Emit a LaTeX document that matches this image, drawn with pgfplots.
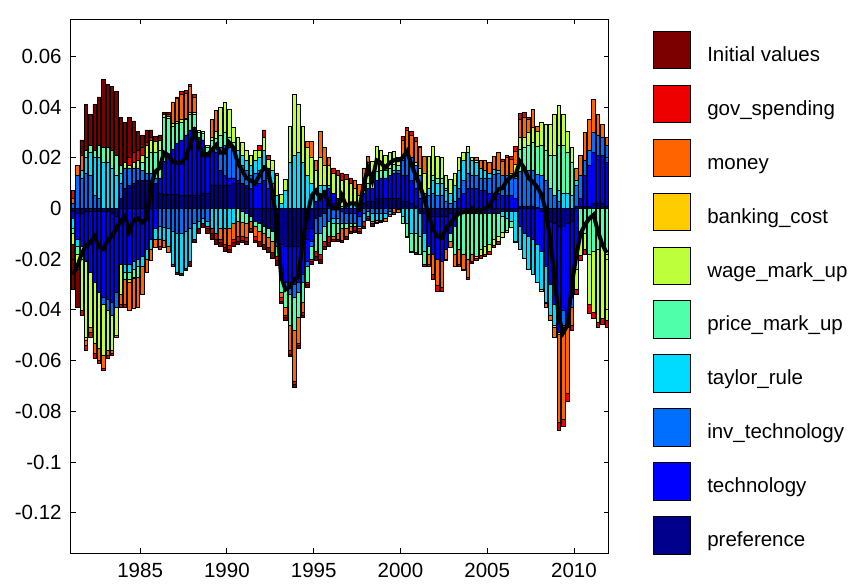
\documentclass[border=0pt]{standalone}
\usepackage{fontspec}
\setmainfont{Liberation Sans}
\usepackage{pgfplots}
\usepackage{pgfplotstable}
\pgfplotsset{compat=1.18}

\definecolor{cpref}{RGB}{0,0,140}
\definecolor{ctech}{RGB}{0,0,255}
\definecolor{cinv}{RGB}{0,110,255}
\definecolor{ctay}{RGB}{0,220,255}
\definecolor{cprice}{RGB}{80,255,170}
\definecolor{cwage}{RGB}{190,255,60}
\definecolor{cbank}{RGB}{255,204,0}
\definecolor{cmoney}{RGB}{255,100,0}
\definecolor{cgov}{RGB}{238,0,0}
\definecolor{cinit}{RGB}{125,0,0}

% shock contributions, in percentage points (plotted /100); q = quarter, 1 = 1981Q1
\pgfplotstableread{
q pref tech inv tay price wage bank money gov init line
1 -0.1 -0.3 0.2 -0.4 -0.2 -0.4 0 0.2 0.3 -1.8 -2.6
2 -0.2 -1.0 1.3 -0.3 -0.3 -0.6 0 0.4 0 -1.5 -2.3
3 -0.2 -1.3 1.2 0.3 -0.5 -2.0 0 0.6 -0.2 0.6 -1.8
4 -0.1 -2.0 1.4 0.6 0.3 -3.0 -0.1 -0.2 -0.2 1.8 -1.45
5 -0.1 -2.4 1.3 0.9 0.3 -2.2 0 -0.2 -0.2 1.2 -1.35
6 -0.1 -2.8 0.5 1.5 0.3 -2.4 0 -0.4 -0.2 1.8 -1.1
7 -0.1 -3.2 0.4 1.6 0.5 -2.2 0 -0.5 -0.1 1.9 -1.5
8 -0.1 -3.4 -0.3 1.8 0.6 -2.0 0 -0.5 -0.1 2.7 -1.6
9 -0.1 -3.5 -0.4 1.8 0.6 -1.6 0 -0.2 -0.1 2.5 -1.25
10 -0.2 -3.5 -0.5 1.6 0.7 -1.4 0 -0.1 -0.1 2.5 -1.1
11 -0.3 -3.0 -0.6 1.3 0.8 -1.1 0 -0.1 0 2.5 -0.8
12 0.4 -2.2 0.6 0.4 0.3 -1.2 0 -0.4 -0.1 1.9 -0.5
13 0.8 -2.2 0.8 -0.3 -0.3 0.2 0 -1.0 -0.1 1.6 -0.3
14 0.9 -2.2 0.7 -0.3 -0.3 0.1 -0.1 -1.1 0.3 1.6 -0.9
15 1.0 -2.1 0.6 -0.3 -0.3 0.2 -0.05 -1.2 0.4 1.25 -0.45
16 1.1 -2.0 0.5 -0.3 -0.4 0.3 0 -1.2 0.4 0.75 -0.4
17 1.1 -1.9 0.4 -0.4 0.3 0.3 0 -1.1 0.3 0.5 -0.55
18 1.1 -1.6 0.3 -0.4 0.6 0.5 0 -0.5 0.1 0.5 -0.4
19 1.1 -1.2 0.3 -0.4 0.8 0.5 0 -0.45 0.1 0.3 0.9
20 1.0 -0.8 0.2 -0.4 1.0 0.45 0 -0.35 0 0.2 1.45
21 0.6 0.6 -0.7 -0.5 1.1 0.4 0 -0.3 -0.1 0.2 1.6
22 0.55 1.3 -0.75 -0.5 1.75 0.1 0 -0.3 0 0.1 2.2
23 0.55 1.5 -0.8 -0.7 1.5 0.1 0 -0.25 0.05 0.1 2.1
24 0.55 1.8 -0.9 -1.3 0.9 0.1 0 0.85 -0.1 0 1.85
25 0.55 2.0 -1.0 -1.5 0.8 0.1 0 0.9 0.05 -0.1 1.8
26 0.5 2.2 -1.0 -1.55 0.7 0.1 0 1.0 0.1 -0.1 1.8
27 0.5 2.4 -0.9 -1.45 0.6 0.05 0 1.0 0.1 -0.1 2.0
28 0.5 2.6 -0.8 -1.3 0.6 0.1 0 1.0 0.1 -0.2 2.5
29 0.5 2.7 -0.6 -0.6 0.5 0.1 0 0.6 0.1 -0.15 3.0
30 0.5 2.3 -0.5 -0.3 0.2 0.1 0 0 0 -0.2 2.5
31 0.6 2.1 -0.4 -0.2 0.25 0.1 0 0 0 -0.15 2.1
32 0.6 1.6 -0.5 -0.2 0.2 0.1 0 0 -0.1 -0.2 2.1
33 0.9 1.4 0 -0.8 0.4 0.1 0 0.7 -0.2 -0.2 2.3
34 0.9 1.3 0.2 -1.0 0.35 0.3 0 0.8 -0.2 -0.2 2.5
35 0.9 0.6 0.9 -0.8 0.5 1.1 0 -0.4 -0.15 -0.15 2.2
36 0.9 0.4 1.2 -0.8 0.5 1.2 0 -0.6 -0.15 -0.15 2.2
37 0.9 0.3 1.2 -0.8 0.4 1.1 0 -0.65 -0.15 -0.15 2.6
38 1.0 0.2 1.1 -0.6 0.3 0.6 0 -0.6 -0.15 -0.15 2.4
39 1.0 0.1 0.8 0.4 -0.5 0.5 0 -0.6 -0.2 -0.1 1.8
40 1.0 -0.1 0.7 0.4 -0.45 0.5 0 -0.55 -0.15 -0.1 1.5
41 0.9 -0.2 0.6 0.4 -0.4 0.4 0 -0.55 -0.15 -0.1 1.2
42 -0.3 0.8 0.5 0.4 -0.2 0.4 0 -0.3 -0.1 -0.05 1.1
43 -0.5 0.9 0.5 0.5 -0.2 0.4 0 -0.4 -0.15 -0.1 1.0
44 -0.6 1.0 0.5 0.5 -0.3 0.3 0 -0.4 0.2 -0.2 1.3
45 -0.7 1.1 0.6 0.6 -0.3 0.5 0 -0.4 0.3 -0.2 1.6
46 -0.8 0.8 0.4 0.4 -0.35 0.35 0 -0.4 0.15 -0.2 1.5
47 -0.9 0.7 0.3 0.5 -0.4 0.4 0 -0.45 0 -0.2 0.6
48 -1.0 -0.3 -0.2 0.5 -0.4 0.8 0 0.1 -0.15 -0.2 -0.5
49 -1.4 -1.0 -0.3 0.2 -0.6 0.35 0 -0.2 -0.15 -0.1 -2.7
50 -1.5 -1.4 -0.3 0.7 -0.7 0.45 0 -0.3 -0.1 -0.1 -3.2
51 -1.5 -1.5 -0.4 1.8 -1.2 1.45 0 -1.0 -0.15 -0.1 -3.1
52 -1.5 -1.5 -0.5 2.1 -1.3 2.4 0 -2.0 -0.15 -0.1 -2.8
53 -1.5 -1.4 -0.4 2.2 -1.0 1.9 0 -1.0 -0.1 -0.1 -2.7
54 -1.4 -1.2 -0.3 1.8 -0.8 1.45 0 -0.4 -0.1 -0.1 -1.2
55 -1.2 -0.9 -0.2 1.3 -0.6 1.1 0 0.25 -0.1 -0.1 -0.3
56 -0.8 -0.5 -0.2 1.0 -0.5 1.0 0 0.65 -0.1 -0.1 0.5
57 -0.4 0.3 -0.6 0.4 -0.7 0.8 0 0.4 -0.2 -0.15 0.7
58 -0.3 0.6 -0.7 0.3 -0.8 1.1 0 1.05 -0.2 -0.15 0.4
59 -0.2 0.7 -0.5 0.2 -0.6 0.8 0 0.7 -0.2 -0.1 0.6
60 0.2 0.6 -0.5 0.1 -0.6 0.8 0 0.3 -0.25 -0.15 0.2
61 0.2 0.4 -0.4 -0.2 -0.5 0.8 0 -0.1 0.2 -0.1 0.0
62 0.1 0.3 -0.4 -0.2 -0.4 0.9 0 -0.2 0.2 -0.1 0.0
63 0 -0.1 -0.5 0.1 -0.2 1.0 0 -0.45 0.3 -0.1 0.5
64 0 -0.2 -0.4 0.15 -0.2 1.0 0 -0.3 0.2 -0.1 0.1
65 0 -0.2 -0.4 0.2 -0.1 0.8 0 -0.2 0.2 -0.1 0.2
66 0 -0.2 -0.4 0.2 -0.1 0.6 0 0.3 -0.15 -0.1 0.2
67 -0.1 -0.2 -0.4 0.2 -0.1 0.3 0 0.45 -0.1 -0.1 0.0
68 0.2 0.4 -0.2 -0.3 0.1 0.4 0 0.5 -0.2 -0.1 0.9
69 0.3 0.5 -0.1 -0.2 0.2 0.8 0 0.25 -0.1 -0.05 1.6
70 0.3 0.5 -0.2 -0.3 0.25 0.8 0 -0.1 0 -0.1 1.1
71 0.4 0.7 -0.2 -0.25 0.35 1.0 0 -0.1 0 -0.05 1.9
72 0.4 0.8 -0.2 -0.25 0.3 0.8 0 -0.05 0 -0.05 1.8
73 0.4 0.8 -0.2 -0.2 0.3 0.6 0 -0.1 0 0 1.6
74 0.4 0.9 -0.1 -0.15 0.3 0.6 0 -0.05 0 0 1.8
75 0.4 1.0 0 0.1 0.25 0.5 0 -0.15 -0.1 0 1.9
76 0.4 1.0 0.1 -0.05 0.2 0.3 0 -0.1 0 0 1.9
77 0.3 1.0 0.6 -0.3 -0.3 0.2 0 0.6 0.15 0 2.0
78 0.3 1.0 0.8 -0.6 -0.5 0.1 0 0.9 0.1 -0.05 2.25
79 0.2 0.9 0.9 -1.0 -0.7 0 0 0.9 0.15 -0.05 1.75
80 0.1 0.7 0.9 -1.0 -0.75 0.1 0 0.85 0.15 -0.05 1.3
81 -0.2 0.4 0.9 -0.9 -0.7 0.3 0 0.8 0.05 0 0.9
82 -0.2 -0.8 0.6 -0.7 -0.5 0.8 0 0.65 -0.1 0 0.4
83 -0.3 -1.2 0.5 0.3 -0.3 1.25 0 -0.4 -0.1 0 -0.3
84 -0.3 -1.5 0.6 0.5 0.2 1.15 0 -0.8 -0.2 0 -0.8
85 -0.3 -1.7 0.5 0.5 0.2 0.85 0 -1.05 -0.2 0 -1.1
86 -0.3 -1.8 0.5 0.5 0.2 0.8 0 -1.0 -0.15 0 -1.15
87 -0.3 -1.3 0.3 0.4 0.1 0.5 0 -0.4 -0.05 0 -0.8
88 -0.2 -0.8 0.2 0.4 -0.3 0.55 0 -0.25 0 0 -0.6
89 -0.2 -0.5 0.3 0.6 -1.1 0.5 0 -0.5 0 0 -0.35
90 -0.2 0.4 0.4 0.7 -1.4 0.5 0 -0.6 -0.1 0 -0.2
91 -0.2 0.6 0.5 0.8 -1.6 0.3 0 -0.6 -0.05 0 -0.15
92 -0.2 0.8 0.6 0.8 -1.8 0.25 0 -0.7 -0.1 0 -0.1
93 -0.2 0.8 0.5 0.6 -1.6 0.1 0 -0.3 0 -0.05 0.0
94 -0.2 0.8 0.5 0.5 -1.7 0.1 -0.05 0.1 -0.1 0 -0.1
95 -0.2 0.7 0.5 0.4 -1.4 -0.25 0 0.3 -0.1 0 -0.15
96 -0.2 0.7 0.5 0.3 -1.3 -0.3 0 0.4 -0.1 0 0.0
97 -0.2 0.6 0.6 0.2 -1.2 -0.3 0 0.4 -0.1 0 0.1
98 -0.2 0.6 0.75 0.2 -1.0 -0.25 0 0.5 -0.1 0 0.45
99 -0.2 0.6 0.8 0.1 -0.9 -0.2 0 0.7 -0.1 0 0.75
100 -0.1 0.5 0.8 -0.2 -0.65 -0.2 0 0.55 0.1 0 0.8
101 -0.1 0.5 0.8 -0.3 -0.45 -0.1 0 0.7 0.1 0 1.1
102 -0.1 0.5 0.8 -0.4 -0.25 0.1 0 0.55 0.1 0 1.25
103 -0.1 0.4 0.8 -1.2 0.2 0.35 -0.05 0.5 0.2 0 1.3
104 0.1 -0.7 1.35 -0.9 0.9 0.45 0 0.7 0.25 0 1.85
105 0.1 -1.0 1.4 -0.95 0.9 0.4 0 0.8 0.2 0 1.6
106 0.1 -1.1 1.4 -1.3 1.0 0.5 0 0.5 0.1 0 1.2
107 0.1 -1.2 1.4 -1.4 1.1 0.6 0 0.7 0 0 1.05
108 0.05 -1.4 1.3 -1.5 1.1 0.6 0 0.2 0 0 0.85
109 -0.1 -1.6 1.3 -1.5 1.2 0.9 -0.05 0 0 0 0.55
110 -0.3 -2.0 1.1 -1.4 1.2 1.0 -0.05 -0.15 0 0 -0.1
111 -0.5 -2.5 0.8 -1.2 1.3 1.2 0 -0.2 0 0 -1.2
112 -0.6 -3.2 0.5 -0.8 1.6 1.6 -0.1 -0.4 0 0 -2.7
113 -0.7 -4.2 0.3 0.4 1.8 1.55 -0.05 -3.5 -0.3 0 -4.3
114 -0.7 -3.3 -0.6 0.6 1.9 1.2 0 -3.7 -0.3 0 -4.9
115 -0.6 -3.6 -0.5 0.6 1.6 0.85 0 -2.6 -0.3 0 -4.6
116 -0.5 -3.0 -0.4 0.5 1.3 0.6 0 -0.7 -0.2 0 -3.0
117 0.1 -1.6 0.8 0.2 -0.8 -0.8 0 0.5 -0.2 0 -1.9
118 0.1 0.3 0.9 0 -0.9 -0.95 0 0.8 -0.2 0 -1.0
119 0.1 1.2 0.6 0 -1.0 -0.6 0 1.1 -0.2 0 -0.65
120 0.1 1.6 0.6 0 -1.8 -2.0 0 1.2 -0.35 0 -0.4
121 0.2 2.0 0.8 0 -1.7 -2.4 0 1.3 -0.25 0 -0.25
122 0.2 1.9 0.8 0 -1.6 -2.9 0 0.8 -0.2 0 -0.9
123 0.2 1.9 0.7 0 -1.5 -2.85 0 0.5 -0.2 0 -1.4
124 0.1 1.7 0.7 0 -1.8 -2.6 0 0.3 -0.3 0 -1.75
}\shocks

\pgfplotsset{
  hdbase/.style={
    scale only axis, width=269pt, height=266.9pt,
    xmin=0.5, xmax=124.5, ymin=-0.136, ymax=0.0745,
  },
  hdbars/.style={hdbase, hide axis, ybar stacked, bar width=0.8},
}
% positive parts are stacked upwards, negative parts downwards (two overlaid axes)
\newcommand{\hdbar}[3]{%
  \addplot[fill=#2, draw=black, line width=0.3pt]
    table[x=q, y expr={#3(\thisrow{#1},0)/100}] {\shocks};}

\begin{document}
\begin{tikzpicture}
\useasboundingbox (-35.35pt,-14.85pt) rectangle (392.15pt,276.65pt);

\begin{axis}[hdbars]
\hdbar{pref}{cpref}{max}
\hdbar{tech}{ctech}{max}
\hdbar{inv}{cinv}{max}
\hdbar{tay}{ctay}{max}
\hdbar{price}{cprice}{max}
\hdbar{wage}{cwage}{max}
\hdbar{bank}{cbank}{max}
\hdbar{money}{cmoney}{max}
\hdbar{gov}{cgov}{max}
\hdbar{init}{cinit}{max}
\end{axis}

\begin{axis}[hdbars]
\hdbar{pref}{cpref}{min}
\hdbar{tech}{ctech}{min}
\hdbar{inv}{cinv}{min}
\hdbar{tay}{ctay}{min}
\hdbar{price}{cprice}{min}
\hdbar{wage}{cwage}{min}
\hdbar{bank}{cbank}{min}
\hdbar{money}{cmoney}{min}
\hdbar{gov}{cgov}{min}
\hdbar{init}{cinit}{min}
\end{axis}

\begin{axis}[
  hdbase,
  axis line style={black, line width=0.5pt},
  tick align=inside, major tick length=2.5pt,
  tick style={black, line width=0.4pt},
  xtick={16.5,36.5,56.5,76.5,96.5,116.5},
  xticklabels={1985,1990,1995,2000,2005,2010},
  ytick={-0.12,-0.10,-0.08,-0.06,-0.04,-0.02,0,0.02,0.04,0.06},
  yticklabels={-0.12,-0.1,-0.08,-0.06,-0.04,-0.02,0,0.02,0.04,0.06},
  tick label style={font=\fontsize{10.25}{12}\selectfont},
  xticklabel style={yshift=-1.3pt},
  yticklabel style={xshift=-1pt},
  legend image code/.code={\draw[#1, draw=black, line width=0.4pt] (0pt,-3.7pt) rectangle (18.75pt,15.05pt);},
  legend cell align=left,
  legend style={at={(1.0823,0.9785)}, anchor=north west, draw=none, fill=none,
    inner sep=0pt, outer sep=0pt, row sep=7.8pt, column sep=8pt,
    nodes={inner sep=0pt}, cells={anchor=base west},
    font=\fontsize{10.25}{12}\selectfont},
]
\addlegendimage{fill=cinit}\addlegendentry{Initial values}
\addlegendimage{fill=cgov}\addlegendentry{gov\_spending}
\addlegendimage{fill=cmoney}\addlegendentry{money}
\addlegendimage{fill=cbank}\addlegendentry{banking\_cost}
\addlegendimage{fill=cwage}\addlegendentry{wage\_mark\_up}
\addlegendimage{fill=cprice}\addlegendentry{price\_mark\_up}
\addlegendimage{fill=ctay}\addlegendentry{taylor\_rule}
\addlegendimage{fill=cinv}\addlegendentry{inv\_technology}
\addlegendimage{fill=ctech}\addlegendentry{technology}
\addlegendimage{fill=cpref}\addlegendentry{preference}
\addplot[black, line width=2pt, forget plot] table[x=q, y expr=\thisrow{line}/100] {\shocks};
\end{axis}
\end{tikzpicture}
\end{document}
